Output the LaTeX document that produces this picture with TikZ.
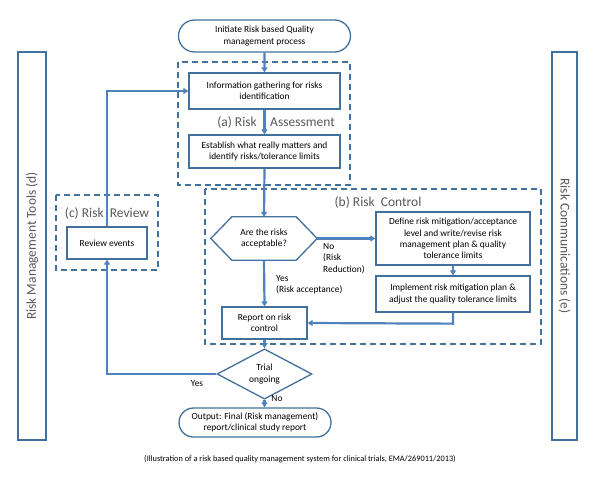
\documentclass[tikz,border=0pt]{standalone}
\usepackage{fontspec}
\setmainfont{Carlito}
\usetikzlibrary{shapes.geometric,shapes.misc,arrows.meta,calc}
\definecolor{boxblue}{HTML}{41719C}
\definecolor{arrblue}{HTML}{4F81BD}
\definecolor{labgray}{HTML}{595959}
\begin{document}
\begin{tikzpicture}[x=1pt,y=-1pt,
  box/.style={draw=boxblue,line width=1.3pt,fill=white,align=center,inner sep=1pt,font=\fontsize{9.4}{11.4}\selectfont},
  term/.style={box,rounded rectangle},
  dashbox/.style={draw=boxblue,line width=1.3pt,dash pattern=on 6pt off 4pt},
  big/.style={text=labgray,font=\fontsize{13.5}{15}\selectfont,inner sep=0pt},
  small/.style={font=\fontsize{9.4}{11.4}\selectfont,inner sep=0pt,align=left},
  arr/.style={draw=arrblue,line width=2.2pt,-{Triangle[length=5pt,width=6pt]}},
  ln/.style={draw=arrblue,line width=2.2pt}]
\useasboundingbox (0,0) rectangle (596,476);
\fill[white] (0,0) rectangle (596,476);
% side bars
\node[draw=boxblue,line width=1.3pt,minimum width=28pt,minimum height=388pt,inner sep=0pt] (leftbar) at (32,246) {};
\node[big,rotate=90] (lefttext) at (leftbar.center) {Risk Management Tools (d)};
\node[draw=boxblue,line width=1.3pt,minimum width=25pt,minimum height=388pt,inner sep=0pt] (rightbar) at (564.5,246) {};
\node[big,rotate=-90] (righttext) at (rightbar.center) {Risk Communications (e)};
% dashed groups
\draw[dashbox] (178,62) rectangle (350,185);
\draw[dashbox] (205,189) rectangle (541,344);
\draw[dashbox] (56,195) rectangle (158,270);
\node[big,anchor=east] (labA1) at (257,122) {(a) Risk};
\node[big,anchor=west] (labA2) at (270,122) {Assessment};
\node[big] (labB) at (378,202) {(b) Risk\ \ Control};
\node[big] (labC) at (107,213) {(c) Risk\ \ Review};
% nodes
\node[term,minimum width=174pt,minimum height=32pt] (start) at (264.5,36) {Initiate Risk based Quality\\management process};
\node[box,minimum width=151pt,minimum height=36pt] (info) at (264.5,91) {Information gathering for risks\\identification};
\node[box,minimum width=151pt,minimum height=33pt] (estab) at (264.5,151.5) {Establish what really matters and\\identify risks/tolerance limits};
\node[align=center,minimum width=106pt,minimum height=43pt,inner sep=0pt] (hex) at (264,238.5) {};
\draw[draw=boxblue,line width=1.3pt,fill=white] (hex.west) -- ($(hex.north west)+(21,0)$) -- ($(hex.north east)+(-21,0)$) -- (hex.east) -- ($(hex.south east)+(-21,0)$) -- ($(hex.south west)+(21,0)$) -- cycle;
\node[align=center,font=\fontsize{9.4}{11.4}\selectfont] (hextext) at (hex.center) {Are the risks\\acceptable?};
\node[box,minimum width=154pt,minimum height=53pt] (define) at (453,238.5) {Define risk mitigation/acceptance\\level and write/revise risk\\management plan \& quality\\tolerance limits};
\node[box,minimum width=154pt,minimum height=36pt] (implement) at (453,294) {Implement risk mitigation plan \&\\adjust the quality tolerance limits};
\node[box,minimum width=85pt,minimum height=32pt] (report) at (264.5,323) {Report on risk\\control};
\node[box,diamond,minimum width=95pt,minimum height=38pt,inner sep=0pt] (trial) at (264.5,374) {Trial\\ongoing};
\node[term,minimum width=154pt,minimum height=29pt] (output) at (255,422.5) {Output: Final (Risk management)\\report/clinical study report};
\node[box,minimum width=80pt,minimum height=32pt] (review) at (107,243) {Review events};
% connectors
\draw[arr] (start) -- (info);
\draw[arr] (info) -- (estab);
\draw[arr] (estab.south) -- (hex.north);
\draw[arr] (hex.east) -- (define.west);
\draw[arr] (define) -- (implement);
\draw[arr] (implement.south) -- ++(0,11) -- (report.east |- 0,323);
\draw[arr] (hex.south) -- (report.north);
\draw[arr] (report) -- (trial);
\draw[arr] (trial.west) -| (review.south);
\draw[arr] (review.north) |- (info.west);
\draw[arr] (trial.south) -- (trial.south |- output.north);
% labels
\node[small,anchor=north west] (nolab) at (323,243) {No\\(Risk\\Reduction)};
\node[small,anchor=north west] (yeslab) at (276,275) {Yes\\(Risk acceptance)};
\node[small] (yes2) at (197,384) {Yes};
\node[small] (no2) at (277,399) {No};
\node[font=\fontsize{8.3}{10}\selectfont,inner sep=0pt] (caption) at (300,459) {(Illustration of a risk based quality management system for clinical trials, EMA/269011/2013)};
\end{tikzpicture}
\end{document}
